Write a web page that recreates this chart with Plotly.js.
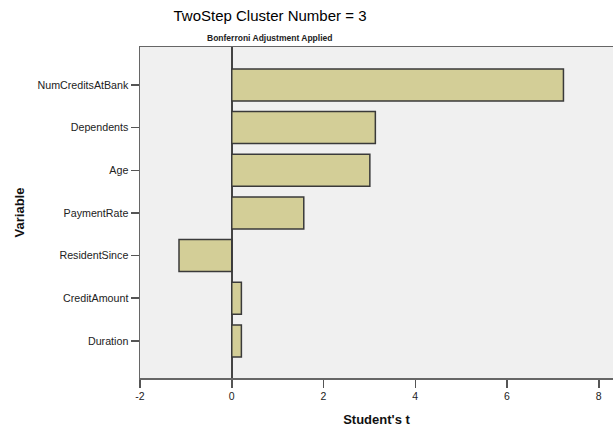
<!DOCTYPE html>
<html>
<head>
<meta charset="utf-8">
<script src="https://cdn.plot.ly/plotly-3.0.1.min.js"></script>
<style>html,body{margin:0;padding:0;background:#fff;}#chart{width:613px;height:429px;}</style>
</head>
<body>
<div id="chart"></div>
<script>
// Variables listed bottom to top
const variables = ["Duration", "CreditAmount", "ResidentSince", "PaymentRate", "Age", "Dependents", "NumCreditsAtBank"];
const tValues = [0.21, 0.21, -1.15, 1.57, 3.01, 3.13, 7.23];
const xTicks = [-2, 0, 2, 4, 6, 8];

const fontFam = "'Liberation Sans', Arial, sans-serif";

const trace = {
  type: 'bar',
  orientation: 'h',
  x: tValues,
  y: variables,
  marker: { color: '#d3ce97', line: { color: '#3a3a3a', width: 1.5 } },
  hoverinfo: 'x+y'
};

const layout = {
  width: 613,
  height: 429,
  margin: { l: 140, r: 0, t: 47, b: 51 },
  paper_bgcolor: '#ffffff',
  plot_bgcolor: '#f0f0f0',
  bargap: 0.25,
  showlegend: false,
  font: { family: fontFam, color: '#222' },
  title: {
    text: 'TwoStep Cluster Number = 3',
    font: { family: fontFam, size: 15, color: '#000' },
    x: 270 / 613, xanchor: 'center', xref: 'container',
    y: 1 - 16 / 429, yanchor: 'middle', yref: 'container'
  },
  annotations: [{
    text: '<b>Bonferroni Adjustment Applied</b>',
    xref: 'paper', yref: 'paper',
    x: (269 - 140) / 473, y: 1 + 9 / 331,
    xanchor: 'center', yanchor: 'middle',
    showarrow: false,
    font: { family: fontFam, size: 8.5, color: '#222' }
  }],
  xaxis: {
    range: [-2, 8.31],
    tickvals: xTicks,
    ticktext: xTicks.map(String),
    ticks: 'outside', ticklen: 8, tickwidth: 1.5, tickcolor: '#555',
    tickfont: { family: fontFam, size: 10.5, color: '#222' },
    showgrid: false,
    zeroline: true, zerolinecolor: '#444', zerolinewidth: 1.5,
    showline: true, linecolor: '#666', linewidth: 1.5, mirror: true,
    title: { text: "<b>Student's t</b>", font: { family: fontFam, size: 13, color: '#111' }, standoff: 14 },
    automargin: false,
    fixedrange: true
  },
  yaxis: {
    type: 'category',
    range: [-0.87, 6.89],
    ticks: 'outside', ticklen: 8, tickwidth: 1.5, tickcolor: '#555',
    tickfont: { family: fontFam, size: 10.7, color: '#222' },
    showgrid: false,
    showline: true, linecolor: '#666', linewidth: 1.5,
    title: { text: '<b>Variable</b>', font: { family: fontFam, size: 13, color: '#111' }, standoff: 10 },
    automargin: false,
    fixedrange: true
  }
};

Plotly.newPlot('chart', [trace], layout, { displayModeBar: false, staticPlot: true });
</script>
</body>
</html>
